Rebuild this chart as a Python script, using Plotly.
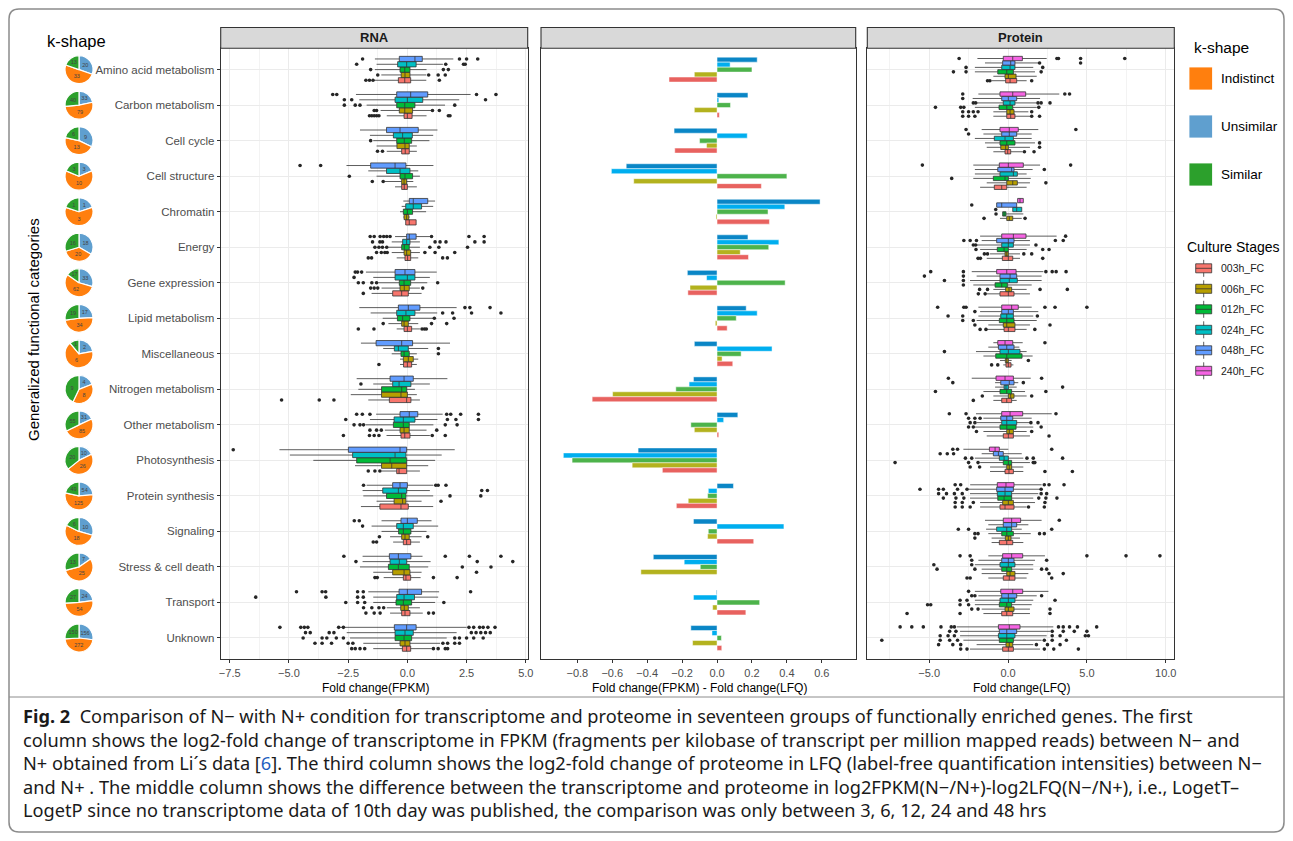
import plotly.graph_objects as go

W, H = 1293, 841
def fx(p): return p / W
def fy(p): return 1 - p / H

categories = ["Amino acid metabolism", "Carbon metabolism", "Cell cycle", "Cell structure",
              "Chromatin", "Energy", "Gene expression", "Lipid metabolism", "Miscellaneous",
              "Nitrogen metabolism", "Other metabolism", "Photosynthesis", "Protein synthesis",
              "Signaling", "Stress & cell death", "Transport", "Unknown"]

# k-shape pie counts
pie_unsimilar  = [20, 33, 9, 3, 1, 18, 33, 17, 2, 4, 31, 10, 54, 10, 7, 24, 156]
pie_indistinct = [33, 79, 13, 10, 3, 20, 62, 34, 6, 8, 85, 26, 125, 18, 25, 54, 272]
pie_similar    = [13, 40, 6, 3, 1, 16, 17, 19, 1, 9, 55, 20, 49, 6, 13, 27, 150]

stage_names = ["003h_FC", "006h_FC", "012h_FC", "024h_FC", "048h_FC", "240h_FC"]
stage_colors = ["#F8766D", "#B79F00", "#00BA38", "#00BFC4", "#619CFF", "#F564E3"]

# RNA box statistics per category: [lower whisker, q1, median, q3, upper whisker]
rna_003 = [[-1.4,-0.38,-0.11,0.14,0.8],[-0.87,-0.14,0.0,0.2,0.81],[-0.87,-0.24,-0.09,0.08,0.4],
           [-0.52,-0.24,-0.13,0.0,0.4],[-0.07,-0.07,0.08,0.37,0.37],[-0.45,-0.1,0.01,0.14,0.46],
           [-1.51,-0.62,-0.24,0.04,0.6],[-0.45,-0.14,0.0,0.18,0.53],[-0.31,-0.16,0.0,0.18,0.4],
           [-1.65,-0.76,-0.03,0.15,0.53],[-0.88,-0.27,-0.11,0.11,0.95],[-1.09,-0.45,-0.35,-0.03,0.53],
           [-1.96,-1.16,-0.27,0.04,1.09],[-0.6,-0.17,-0.03,0.14,0.53],[-1.0,-0.17,-0.06,0.14,0.56],
           [-0.73,-0.24,-0.1,0.11,0.65],[-1.44,-0.21,-0.03,0.14,1.03]]
rna_006 = [[-1.1,-0.26,-0.1,0.11,0.8],[-1.13,-0.34,-0.11,0.22,1.03],[-1.3,-0.44,-0.1,0.08,0.4],
           [-0.95,-0.24,-0.14,-0.03,0.25],[-0.17,-0.14,-0.03,0.06,0.1],[-0.66,-0.14,-0.03,0.14,0.53],
           [-1.09,-0.31,-0.13,0.08,0.53],[-0.8,-0.24,-0.14,0.04,0.46],[-0.31,-0.17,0.04,0.25,0.46],
           [-2.39,-1.09,-0.27,0.0,0.4],[-0.95,-0.31,-0.14,0.08,0.81],[-2.21,-1.09,-0.66,-0.03,0.88],
           [-1.3,-0.56,-0.2,-0.06,0.6],[-0.73,-0.24,-0.1,0.08,0.6],[-1.44,-0.62,-0.14,0.11,0.6],
           [-0.87,-0.28,-0.13,0.04,0.53],[-1.86,-0.31,-0.1,0.11,1.38]]
rna_012 = [[-1.37,-0.31,-0.11,0.11,0.81],[-1.72,-0.45,-0.11,0.32,1.59],[-1.44,-0.45,-0.13,0.18,0.93],
           [-1.3,-0.31,-0.1,0.22,0.53],[-0.31,-0.17,0.0,0.22,0.79],[-0.8,-0.24,-0.13,0.08,0.53],
           [-1.23,-0.34,-0.14,0.14,0.84],[-1.04,-0.42,-0.2,0.11,1.09],[-0.66,-0.27,-0.14,0.08,0.4],
           [-2.07,-1.09,-0.24,-0.03,0.32],[-1.76,-0.59,-0.17,0.08,1.1],[-3.97,-2.14,-0.73,-0.03,1.17],
           [-1.86,-0.88,-0.24,-0.06,1.09],[-1.09,-0.37,-0.17,0.15,0.81],[-2.0,-0.8,-0.38,0.08,0.88],
           [-1.44,-0.48,-0.17,0.18,1.17],[-2.42,-0.52,-0.14,0.18,1.66]]
rna_024 = [[-1.3,-0.41,-0.03,0.37,1.5],[-2.03,-0.52,0.0,0.65,2.19],[-1.58,-0.59,-0.2,0.21,1.09],
           [-1.65,-0.88,-0.31,0.11,0.46],[-0.24,-0.07,0.25,0.6,1.09],[-0.66,-0.2,-0.03,0.11,0.53],
           [-1.44,-0.52,0.0,0.32,0.95],[-1.55,-0.45,-0.06,0.32,1.26],[-1.02,-0.55,-0.38,0.04,0.88],
           [-1.44,-0.62,-0.35,0.15,0.95],[-1.58,-0.56,-0.17,0.32,1.27],[-4.96,-2.31,-0.52,-0.06,1.45],
           [-1.89,-1.04,-0.38,-0.03,0.95],[-1.51,-0.45,-0.17,0.25,1.3],[-1.89,-0.73,-0.34,-0.03,0.98],
           [-1.44,-0.45,-0.14,0.3,1.3],[-2.56,-0.52,-0.1,0.25,2.08]]
rna_048 = [[-1.37,-0.34,0.32,0.63,1.94],[-2.17,-0.45,0.14,0.86,2.67],[-2.0,-0.88,-0.31,0.46,1.27],
           [-2.57,-1.55,-0.52,-0.06,1.1],[-0.17,0.08,0.25,0.86,1.17],[-0.52,-0.03,0.08,0.37,0.95],
           [-1.75,-0.52,-0.1,0.32,1.24],[-2.03,-0.38,0.04,0.53,2.08],[-1.96,-1.32,-0.24,0.22,1.8],
           [-2.14,-0.73,-0.14,0.25,1.69],[-1.32,-0.31,0.08,0.44,1.49],[-5.4,-2.49,-0.31,-0.03,2.0],
           [-1.72,-0.62,-0.31,0.0,1.09],[-1.09,-0.27,0.0,0.42,1.02],[-1.89,-0.76,-0.38,0.15,0.64],
           [-1.65,-0.35,0.0,0.6,1.34],[-2.85,-0.55,-0.03,0.37,2.5]]

# RNA outliers per category
rna_out_003 = [[-1.75,-1.6,-1.45,1.35],[-1.6,-1.5,-1.4,-1.3,-1.2,1.73,1.8],[-1.26,-1.05],[],[],
               [-1.65,-1.51,1.49,1.69],[-1.86],[-2.07,-1.41,0.62,0.72,0.8],[-1.2],[-5.31,-3.72,-3.1],
               [-2.7,-1.6,-1.4,-1.2,1.05,1.6],[-1.65,-1.37,-1.16],[],[-1.44,-1.3],[-1.37,-1.27,1.1,2.1],
               [-1.75,-1.4,-1.15,0.9,1.1],[-2.35,-2.2,-2.0,-1.8,1.1,1.3,1.6,1.7]]
rna_out_006 = [[-1.25,0.9,1.3,1.6],[-1.4,-1.3,1.06,1.35],[],[-1.48,-1.02],[],
               [-1.3,-1.1,-0.95,-0.85,0.74,1.17,2.0],[-1.55,-1.4,-1.25,0.65],[-1.02,1.02,1.66],[],[],
               [-1.58,-1.3,-1.1,1.24],[],[1.42],[-1.18,0.86],[2.92],[-1.85,-1.5,-1.2,-1.0],
               [-3.9,-3.6,-3.2,-2.5,-2.3,1.5,1.7,2.0,2.2]]
rna_out_012 = [[-1.55,1.52,1.73],[-2.66,-2.2,-2.0,2.0],[-1.55],[-2.45],[],
               [-1.37,-1.2,-1.05,-0.87,0.95,1.33,2.54],[-2.07,-1.86,-1.5,-1.3,1.28],[1.14,1.97],[1.31],[],
               [-2.25,-2.0,-1.85,1.6,2.1],[],[1.8,3.1],[],[2.32,3.53],[-2.6,-2.1,-1.8,1.54],
               [-4.4,-3.6,-3.4,-3.0,-2.7,2.0,2.2,2.5,2.8,3.2]]
rna_out_024 = [[-2.14,1.62,2.37,2.44],[-2.66,-2.35,3.3],[],[],[],
               [-1.47,-1.16,-1.05,1.17,1.38,1.63,2.85,3.24],[-2.25],[1.49,1.91,2.71,3.95],[1.31],[-1.96],
               [-2.6,1.69,2.05,3.0],[],[3.14,3.38],[-1.89],[-2.17,2.95,4.45],[-6.4,-3.44,-2.1,-1.86],
               [-4.3,-4.1,-3.3,-3.1,2.7,2.9,3.1,3.3,3.5]]
rna_out_048 = [[-1.89,2.2,2.5,2.97],[-3.15,-2.98,2.92,3.74],[],[-4.53,-3.66],[],
               [-1.57,-1.4,-1.15,-1.0,-0.87,-0.73,1.02,2.6,3.24],[-2.2,-2.1,-1.93],[2.43,2.64,3.49],[],[],
               [-2.14,-1.9,-1.58,1.66,1.83,2.25,3.0],[-7.35],[-1.85,1.2,1.3,1.63],[-2.24,-2.03],
               [-2.68,1.6,2.62,3.95],[-4.68,-3.6,-3.45,-2.1,-1.86,2.67],
               [-5.38,-4.5,-4.35,-4.2,-2.9,-2.7,2.6,2.8,3.05,3.2,3.4,3.7]]

# Protein box statistics: [lower whisker, q1, median, q3, upper whisker]
prot_003 = [[-1.04,-0.15,0.13,0.55,1.18],[-0.93,-0.08,0.17,0.44,1.39],[-0.93,-0.19,-0.02,0.17,0.93],
            [-1.77,-0.87,-0.4,-0.08,1.18],None,[-1.35,-0.36,0.02,0.3,0.76],
            [-1.35,-0.51,0.02,0.38,1.39],[-1.35,-0.25,0.02,0.44,1.18],[-0.3,-0.13,0.02,0.19,0.34],
            [-0.93,-0.4,-0.08,0.23,0.55],[-1.35,-0.3,0.02,0.34,1.39],[-1.14,-0.19,0.06,0.34,0.97],
            [-1.77,-0.51,-0.19,0.38,1.18],[-1.04,-0.55,-0.08,0.3,0.97],[-1.25,-0.3,0.08,0.44,1.18],
            [-1.56,-0.4,-0.08,0.3,1.39],[-2.41,-0.34,0.02,0.34,2.03]]
prot_006 = [[-0.93,-0.19,0.02,0.51,1.82],[-0.93,-0.08,0.13,0.38,1.29],[-1.35,-0.46,-0.15,0.02,1.39],
            [-1.35,-0.08,0.3,0.59,1.39],[-0.51,-0.08,0.08,0.3,0.87],[-1.14,-0.19,-0.08,0.02,0.76],
            [-0.93,-0.15,0.06,0.23,1.18],[-1.25,-0.3,-0.08,0.44,1.39],[-0.51,-0.17,-0.08,0.02,0.23],
            [-0.93,0.02,0.17,0.38,1.18],[-1.56,-0.08,0.08,0.34,1.18],[-1.14,-0.08,0.08,0.23,0.97],
            [-1.77,-0.34,0.02,0.34,1.71],[-1.04,-0.17,0.02,0.19,0.76],[-1.67,-0.08,0.13,0.44,1.29],
            [-1.67,-0.19,0.02,0.38,1.39],[-1.99,-0.13,0.08,0.3,1.6]]
prot_012 = [[-2.1,-0.65,-0.08,0.34,1.71],[-2.1,-0.57,-0.08,0.3,1.82],[-1.46,-0.51,-0.08,0.44,1.71],
            [-2.2,-0.93,-0.19,0.02,1.44],[-0.34,-0.34,-0.25,-0.13,0.97],[-1.77,-0.68,-0.25,0.02,1.18],
            [-2.2,-0.82,-0.4,-0.04,1.5],[-1.99,-0.55,-0.08,0.38,1.82],[-1.56,-0.78,-0.08,0.89,1.56],
            [-1.56,-0.51,-0.08,0.23,1.08],[-2.1,-0.51,-0.08,0.51,1.6],[-1.77,-0.3,0.02,0.23,1.39],
            [-2.41,-0.65,-0.25,0.23,1.6],[-1.25,-0.4,-0.08,0.34,1.44],[-1.67,-0.4,-0.08,0.23,1.6],
            [-2.1,-0.55,-0.08,0.23,1.5],[-2.83,-0.55,-0.08,0.34,2.13]]
prot_024 = [[-2.1,-0.4,0.13,0.44,1.6],[-1.99,-0.3,0.13,0.44,1.82],[-2.1,-0.87,-0.19,0.34,1.5],
            [-2.1,-0.51,0.34,0.59,1.18],[0.3,0.3,0.55,0.87,0.87],[-1.99,-0.4,0.02,0.34,1.39],
            [-2.41,-0.51,0.08,0.59,2.13],[-1.88,-0.46,-0.08,0.34,1.6],[-2.03,-0.51,0.02,0.76,1.18],
            [-0.82,-0.25,-0.13,0.02,0.55],[-1.99,-0.4,-0.08,0.55,1.39],[-2.1,-0.55,-0.25,0.02,0.97],
            [-2.41,-0.68,-0.19,0.23,1.92],[-1.39,-0.72,-0.08,0.23,0.87],[-2.1,-0.51,0.02,0.44,1.6],
            [-2.1,-0.51,0.02,0.44,1.6],[-3.04,-0.61,-0.08,0.44,2.45]]
prot_048 = [[-1.46,-0.34,0.17,0.44,1.92],[-2.24,-0.4,0.02,0.55,2.03],[-1.56,-0.4,0.08,0.55,1.5],
            [-2.1,-0.65,0.23,0.38,1.56],[-0.72,-0.72,-0.4,0.55,0.55],[-1.67,-0.72,0.02,0.38,1.39],
            [-1.99,-0.51,0.13,0.55,2.13],[-1.77,-0.4,0.02,0.34,1.92],[-1.25,-0.61,-0.08,0.38,0.72],
            [-0.82,-0.46,0.08,0.38,0.65],[-1.56,-0.46,-0.08,0.3,1.5],[-1.67,-0.93,-0.61,-0.3,0.87],
            [-2.5,-0.72,-0.19,0.34,2.03],[-1.25,-0.3,0.23,0.55,1.29],[-1.88,-0.4,0.02,0.38,1.71],
            [-1.88,-0.4,0.02,0.55,1.82],[-3.04,-0.55,-0.08,0.55,2.66]]
prot_240 = [[-1.94,-0.3,0.3,0.91,2.45],[-1.88,-0.51,0.3,1.12,3.25],[-1.67,-0.51,0.08,0.65,1.92],
            [-2.2,-0.55,0.02,0.97,2.03],[0.61,0.61,0.76,0.97,0.97],[-1.77,-0.4,0.34,1.14,3.08],
            [-2.3,-0.72,-0.08,0.51,2.24],[-1.88,-0.4,0.23,0.65,1.5],[-0.93,-0.65,-0.19,0.3,0.93],
            [-2.3,-0.76,-0.19,0.34,1.44],[-2.03,-0.4,0.13,0.93,2.77],[-2.83,-1.18,-0.82,-0.55,0.02],
            [-2.4,-0.68,-0.13,0.38,2.13],[-1.46,-0.3,0.23,0.8,2.13],[-1.25,-0.34,0.23,0.93,2.34],
            [-2.1,-0.46,0.3,0.93,2.56],[-3.25,-0.61,0.08,0.76,2.87]]

prot_out_003 = [[-1.3,-1.15,1.5],[-2.87,-2.5,-2.1,1.5,2.0],[1.04,1.65],[],[],[-1.9,-1.75,2.2],
                [-1.88,-1.45],[-1.77,-1.4,1.7],[-1.04,-0.65],[-2.2],[2.6],[2.34,4.08],
                [-3.35,-2.9,-2.4,1.3,2.3],[],[-2.6,-2.4,2.77],[-6.4,-3.04,2.66],[-3.0,-2.6,2.3,2.9,4.46]]
prot_out_006 = [[],[-2.87,-2.5,-2.2,-1.9,1.5],[2.0],[2.4],[-1.52,1.08],[-1.5,-1.3,1.0,1.5],
                [-1.8,-1.3,2.03,3.76],[-2.1,2.66],[1.29],[-1.63,1.5],[-2.0,1.5],[-2.4,-1.8],
                [-3.35,-2.9,-2.2,2.34],[-2.1],[2.6,3.5],[-2.3,-1.9,2.66],[-4.4,-3.5,-3.0,1.8,2.5,3.3]]
prot_out_012 = [[-3.46,-2.66,2.1],[-4.6,-3.0,-2.8,1.95],[2.0],[-3.57],[-0.76],[-2.03,2.2,2.6],
                [-2.83],[-2.87,-2.2],[],[-4.6,2.4],[-2.5,-2.2,2.1],[-7.16,-2.5,-1.9,1.6,1.7],
                [-4.1,-3.3,-2.8,1.95,2.4,3.1],[-2.1,-1.9,2.0,2.3],[-4.5,-2.1,2.13,2.45],
                [-5.1,-4.9,-3.04,-2.5],[-8.0,-4.3,-3.7,-3.2,2.3,2.8,3.7]]
prot_out_024 = [[-2.66,2.2],[-2.2,-2.05,1.9,2.1,2.66],[],[],[-0.78],[-2.2,-2.05,1.77],
                [-4.03,-2.83],[-3.8,-2.87,1.86],[-4.03],[3.46],[-2.4,-2.1,1.45,1.9],
                [-2.7,-2.3,1.2,1.6,3.46],[-4.4,-3.9,-3.4,-2.9,2.1,2.45],[-3.15,-2.5,2.77],
                [-4.7,-2.3],[-3.04,-2.6,2.98],[-4.3,-3.8,-3.4,2.8,3.3,4.9,5.1]]
prot_out_048 = [[2.0,4.6],[-2.87],[-2.5],[2.3],[-2.3],[-2.8,-2.4,-2.0,3.0,3.5],[-5.3,-2.83],
                [-2.1],[],[-3.5,0.97],[-2.5,-2.1,-1.77],[-4.3,-3.85,-3.45],
                [-5.58,-4.4,-4.1,-3.2,-2.6,2.1],[],[-2.3,2.45],[-2.3,-2.1,2.13],
                [-3.7,-3.3,2.8,3.5,4.2,5.0]]
prot_out_240 = [[-3.1,3.1,3.2,4.6,7.4],[-2.87,3.6,3.9],[-2.66,4.3],[-5.43,3.97],[],[3.65],
                [-4.9,-2.83,2.4,2.8,3.05,3.68],[-4.46,-2.8,-2.66,2.34,2.98,5.0],[2.34],[-3.78,2.13],
                [-3.72,-2.66,3.04],[-3.5,-3.2,2.77],[-3.35,-3.0,2.3,2.6,3.55],[3.25],
                [-3.04,-2.4,5.0,7.48,9.63],[-2.5],[-6.84,-6.1,-5.37,-4.25,-3.6,-3.4,3.2,3.5,3.9,4.4,5.62]]

# Middle panel: Fold change(FPKM) - Fold change(LFQ)
mid_003 = [-0.275, 0.013, -0.242, 0.254, 0.30, 0.18, -0.167, 0.058, 0.09, -0.715, 0.01, -0.313, -0.233, 0.21, 0.0, 0.165, 0.027]
mid_006 = [-0.13, -0.13, -0.06, -0.477, -0.006, 0.133, -0.155, -0.01, 0.029, -0.598, -0.13, -0.486, -0.165, -0.054, -0.436, -0.025, -0.14]
mid_012 = [0.2, 0.077, -0.1, 0.40, 0.292, 0.296, 0.39, 0.11, 0.138, -0.236, -0.15, -0.83, -0.054, -0.05, -0.096, 0.244, 0.025]
mid_024 = [0.075, 0.01, 0.173, -0.605, 0.388, 0.354, -0.06, 0.23, 0.315, -0.16, 0.038, -0.88, -0.05, 0.383, -0.188, -0.135, -0.029]
mid_048 = [0.23, 0.177, -0.246, -0.52, 0.59, 0.177, -0.17, 0.167, -0.13, -0.135, 0.119, -0.452, 0.094, -0.135, -0.365, -0.004, -0.15]
mid_colors = ["#E8625F", "#B3B21E", "#4DB34B", "#00AEEF", "#0A86C6"]
mid_ticks = [-0.8, -0.6, -0.4, -0.2, 0.0, 0.2, 0.4, 0.6]

kshape_names = ["Indistinct", "Unsimilar", "Similar"]
kshape_colors = ["#FF7F0E", "#5F9FCF", "#2CA02C"]

FONT = "Liberation Sans, Arial, sans-serif"
TICK = "#4D4D4D"
n = len(categories)
idx = list(range(n))

fig = go.Figure()

def add_boxes(stats_list, outs_list, stage_ids, xa, ya, span=0.75):
    k = len(stats_list)
    w = span / k
    for j, (stats, outs, sid) in enumerate(zip(stats_list, outs_list, stage_ids)):
        rank = k - 1 - j  # latest stage on top (reversed axis)
        off = (rank - (k - 1) / 2) * w
        ys, lo, q1, md, q3, hi = [], [], [], [], [], []
        for i, s in enumerate(stats):
            if s is None:
                continue
            ys.append(i + off); lo.append(s[0]); q1.append(s[1]); md.append(s[2]); q3.append(s[3]); hi.append(s[4])
        fig.add_trace(go.Box(y=ys, lowerfence=lo, q1=q1, median=md, q3=q3, upperfence=hi,
                             orientation="h", width=w * 0.98, fillcolor=stage_colors[sid],
                             line=dict(color="#333333", width=0.8), whiskerwidth=0,
                             boxpoints=False, showlegend=False, hoverinfo="skip",
                             xaxis=xa, yaxis=ya))
        ox, oy = [], []
        for i, vals in enumerate(outs):
            for v in vals:
                ox.append(v); oy.append(i + off)
        fig.add_trace(go.Scatter(x=ox, y=oy, mode="markers",
                                 marker=dict(color="#262626", size=3.6),
                                 showlegend=False, hoverinfo="skip", xaxis=xa, yaxis=ya))

add_boxes([rna_003, rna_006, rna_012, rna_024, rna_048],
          [rna_out_003, rna_out_006, rna_out_012, rna_out_024, rna_out_048],
          [0, 1, 2, 3, 4], "x", "y")
add_boxes([prot_003, prot_006, prot_012, prot_024, prot_048, prot_240],
          [prot_out_003, prot_out_006, prot_out_012, prot_out_024, prot_out_048, prot_out_240],
          [0, 1, 2, 3, 4, 5], "x3", "y3")

mids = [mid_003, mid_006, mid_012, mid_024, mid_048]
for j in [4, 3, 2, 1, 0]:
    fig.add_trace(go.Bar(x=mids[j], y=idx, orientation="h", marker=dict(color=mid_colors[j],
                         line=dict(color="rgba(255,255,255,0.8)", width=0.6)),
                         showlegend=False, hoverinfo="skip", xaxis="x2", yaxis="y2"))

ydom = [fy(659.3), fy(48.3)]
yr = [16.6, -0.6]
common_y = dict(domain=ydom, range=yr, tickvals=idx, showline=True, mirror=True, automargin=False,
                linecolor="#333333", linewidth=1.1, zeroline=False)
fig.update_layout(
    template="none",
    xaxis=dict(domain=[fx(220.7), fx(527.7)], range=[-7.88, 5.08], anchor="y", tick0=0, dtick=2.5,
               tickformat=".1f", showgrid=True, gridcolor="#EBEBEB", gridwidth=1, automargin=False,
               minor=dict(dtick=1.25, tick0=0, showgrid=True, gridcolor="#F3F3F3", gridwidth=1),
               ticks="outside", ticklen=3, tickcolor="#333333", zeroline=False,
               showline=True, mirror=True, linecolor="#333333", linewidth=1.1,
               tickfont=dict(family=FONT, size=11, color=TICK)),
    yaxis=dict(**common_y, anchor="x", ticktext=categories, showticklabels=True, ticks="outside",
               ticklen=3, tickcolor="#333333", showgrid=True, gridcolor="#EBEBEB",
               tickfont=dict(family=FONT, size=11.5, color=TICK)),
    xaxis2=dict(domain=[fx(541), fx(855.7)], range=[-1.008, 0.794], anchor="y2", tickvals=mid_ticks,
                tickformat=".1f", showgrid=False, zeroline=False, ticks="outside", ticklen=3,
                automargin=False,
                tickcolor="#333333", showline=True, mirror=True, linecolor="#333333", linewidth=1.1,
                tickfont=dict(family=FONT, size=11, color=TICK)),
    yaxis2=dict(**common_y, anchor="x2", showticklabels=False, ticks="", showgrid=False),
    xaxis3=dict(domain=[fx(867.3), fx(1174.3)], range=[-8.92, 10.54], anchor="y3", tick0=0, dtick=5,
                tickformat=".1f", showgrid=True, gridcolor="#EBEBEB", gridwidth=1, automargin=False,
                minor=dict(dtick=2.5, tick0=0, showgrid=True, gridcolor="#F3F3F3", gridwidth=1),
                ticks="outside", ticklen=3, tickcolor="#333333", zeroline=False,
                showline=True, mirror=True, linecolor="#333333", linewidth=1.1,
                tickfont=dict(family=FONT, size=11, color=TICK)),
    yaxis3=dict(**common_y, anchor="x3", showticklabels=False, ticks="", showgrid=True,
                gridcolor="#EBEBEB"),
    barmode="group", bargap=0.3, bargroupgap=0, boxmode="overlay",
    width=W, height=H, margin=dict(l=0, r=0, t=0, b=0, pad=0, autoexpand=False), autosize=False,
    paper_bgcolor="white", plot_bgcolor="white", showlegend=False,
    font=dict(family=FONT),
)

top_px, bot_px = 48.3, 659.3
for i in range(n):
    cy = top_px + (i - yr[1]) / (yr[0] - yr[1]) * (bot_px - top_px)
    fig.add_trace(go.Pie(values=[pie_unsimilar[i], pie_indistinct[i], pie_similar[i]],
                         labels=[kshape_names[1], kshape_names[0], kshape_names[2]],
                         marker=dict(colors=[kshape_colors[1], kshape_colors[0], kshape_colors[2]],
                                     line=dict(color="white", width=1.2)),
                         sort=False, direction="clockwise", rotation=0,
                         textinfo="value", textposition="inside", insidetextorientation="horizontal",
                         textfont=dict(size=5.5, color="#444444", family=FONT),
                         domain=dict(x=[fx(65), fx(93)], y=[fy(cy + 14), fy(cy - 14)]),
                         showlegend=False, hoverinfo="skip"))

shapes = []
ann = []

def add_text(text, x, y, size, color="black", xanchor="center", angle=0, family=FONT):
    ann.append(dict(text=text, x=fx(x), y=fy(y), xref="paper", yref="paper", showarrow=False,
                    xanchor=xanchor, yanchor="middle", textangle=angle, borderpad=0,
                    font=dict(family=family, size=size, color=color)))

for x0, x1, label in [(220.7, 527.7, "RNA"), (541, 855.7, ""), (867.3, 1174.3, "Protein")]:
    shapes.append(dict(type="rect", xref="paper", yref="paper", x0=fx(x0), x1=fx(x1),
                       y0=fy(48.3), y1=fy(27.5), fillcolor="#D9D9D9",
                       line=dict(color="#333333", width=1.1), layer="above"))
    if label:
        add_text("<b>%s</b>" % label, (x0 + x1) / 2, 38, 13, "#1A1A1A")

for xc, t in [(375, "Fold change(FPKM)"), (699, "Fold change(FPKM) - Fold change(LFQ)"),
              (1021, "Fold change(LFQ)")]:
    add_text(t, xc, 688, 12)
add_text("Generalized functional categories", 33, 330, 15, angle=-90)
add_text("k-shape", 46, 41, 16.5, xanchor="left")

add_text("k-shape", 1193, 47.5, 15.5, xanchor="left")
for k, yc in zip([0, 1, 2], [78.5, 126.5, 174.5]):
    shapes.append(dict(type="rect", xref="paper", yref="paper", x0=fx(1189), x1=fx(1212.5),
                       y0=fy(yc + 11.5), y1=fy(yc - 11.5), fillcolor=kshape_colors[k],
                       line=dict(color="white", width=0.8)))
    add_text(kshape_names[k], 1220, yc, 13.5, xanchor="left")

add_text("Culture Stages", 1186, 246.5, 14, xanchor="left")
for s in range(6):
    yc = 268.3 + s * 20.5
    shapes.append(dict(type="line", xref="paper", yref="paper", x0=fx(1203.7), x1=fx(1203.7),
                       y0=fy(yc - 8.5), y1=fy(yc + 8.5), line=dict(color="#333333", width=0.8)))
    shapes.append(dict(type="rect", xref="paper", yref="paper", x0=fx(1195.7), x1=fx(1211.7),
                       y0=fy(yc + 4.5), y1=fy(yc - 4.5), fillcolor=stage_colors[s],
                       line=dict(color="#333333", width=0.8)))
    shapes.append(dict(type="line", xref="paper", yref="paper", x0=fx(1195.7), x1=fx(1211.7),
                       y0=fy(yc), y1=fy(yc), line=dict(color="#333333", width=0.8)))
    add_text(stage_names[s], 1220, yc, 10.5, "#1A1A1A", xanchor="left")

r = 10
x0, x1, y0, y1 = 9, 1284, 9, 832
path = (f"M {fx(x0+r)} {fy(y0)} L {fx(x1-r)} {fy(y0)} Q {fx(x1)} {fy(y0)} {fx(x1)} {fy(y0+r)} "
        f"L {fx(x1)} {fy(y1-r)} Q {fx(x1)} {fy(y1)} {fx(x1-r)} {fy(y1)} L {fx(x0+r)} {fy(y1)} "
        f"Q {fx(x0)} {fy(y1)} {fx(x0)} {fy(y1-r)} L {fx(x0)} {fy(y0+r)} Q {fx(x0)} {fy(y0)} {fx(x0+r)} {fy(y0)} Z")
shapes.append(dict(type="path", xref="paper", yref="paper", path=path,
                   line=dict(color="#8C8C8C", width=1.5)))
shapes.append(dict(type="line", xref="paper", yref="paper", x0=fx(x0), x1=fx(x1), y0=fy(697),
                   y1=fy(697), line=dict(color="#8C8C8C", width=1)))

caption = [
    "<b>Fig. 2</b>  Comparison of N\u2212 with N+ condition for transcriptome and proteome in seventeen groups of functionally enriched genes. The first",
    "column shows the log2-fold change of transcriptome in FPKM (fragments per kilobase of transcript per million mapped reads) between N\u2212 and",
    "N+ obtained from Li\u00b4s data [<span style=\"color:#1F5FBF\">6</span>]. The third column shows the log2-fold change of proteome in LFQ (label-free quantification intensities) between N\u2212",
    "and N+ . The middle column shows the difference between the transcriptome and proteome in log2FPKM(N\u2212/N+)-log2LFQ(N\u2212/N+), i.e., LogetT\u2013",
    "LogetP since no transcriptome data of 10th day was published, the comparison was only between 3, 6, 12, 24 and 48 hrs",
]
for k, line in enumerate(caption):
    add_text(line, 22, 716 + k * 23.5, 18.2, "#1A1A1A", xanchor="left",
             family="Noto Sans, Open Sans, sans-serif")

fig.update_layout(shapes=shapes, annotations=ann)
css_js = ("var s=document.createElement('style');"
          "s.innerHTML='html,body{margin:0;padding:0;overflow:hidden;width:1293px;height:841px;}"
          "body>div{display:block;height:841px;overflow:hidden;}';"
          "document.head.appendChild(s);")
fig.write_html("out.html", config={"displayModeBar": False}, post_script=css_js)
